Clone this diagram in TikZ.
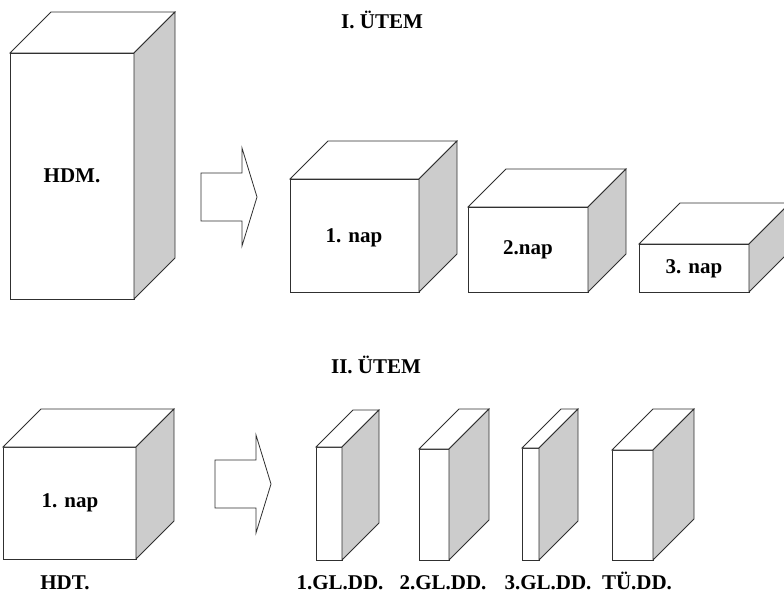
\documentclass[tikz,border=0pt]{standalone}
\usepackage{fontspec}
\setmainfont{Liberation Serif}
\usepackage{tikz}
\usetikzlibrary{positioning}
\definecolor{CSide}{HTML}{CCCCCC}
\definecolor{CLine}{HTML}{303030}

% box: front face lower left (#1,#2), width #3, height #4, depth #5
\newcommand{\cuboid}[5]{%
  \filldraw[fill=white, draw=CLine] (#1,#2) rectangle ++(#3,-#4);
  \filldraw[fill=white, draw=CLine] (#1,#2-#4) -- ++(#5,-#5) -- ++(#3,0) -- ++(-#5,#5) -- cycle;
  \filldraw[fill=CSide, draw=CLine] (#1+#3,#2) -- (#1+#3,#2-#4) -- ++(#5,-#5) -- ++(0,#4) -- cycle;
}
% block arrow: shaft left x, tip x, centre y
\newcommand{\blockarrow}[3]{%
  \draw[CLine, fill=white] (#1,#3-24) -- (#1+41,#3-24) -- (#1+41,#3-49) -- (#2,#3)
    -- (#1+41,#3+49) -- (#1+41,#3+24) -- (#1,#3+24) -- cycle;
}

\begin{document}
\begin{tikzpicture}[x=1pt, y=-1pt, line width=0.8pt,
    lbl/.style={font=\fontsize{21}{25}\selectfont\bfseries, text=black, text height=14pt}]
    \useasboundingbox (0,0) rectangle (784,593);

    % I. UTEM
    \node[lbl] (t1) at (382,22) {I. ÜTEM};

    \cuboid{10}{299}{124}{246}{41}
    \node[lbl] (hdm) at (72,176) {HDM.};

    \blockarrow{201}{257}{197}

    \cuboid{290}{292}{129}{113}{38}
    \node[lbl] (nap1) at (354,238) {1. nap};
    \cuboid{468}{292}{120}{85}{38}
    \node[lbl] (nap2) at (528,250) {2.nap};
    \cuboid{639}{292}{110}{48}{41}
    \node[lbl] (nap3) at (694,269) {3. nap};

    % II. UTEM
    \node[lbl] (t2) at (376,367) {II. ÜTEM};

    \cuboid{3}{559}{133}{112}{38}
    \node[lbl] (hdt1) at (70,503) {1. nap};
    \node[lbl] (hdt) at (65,583) {HDT.};

    \blockarrow{215}{271}{484}

    \cuboid{316}{560}{26}{113}{37}
    \cuboid{419}{560}{30}{111}{40}
    \cuboid{522}{560}{17}{112}{39}
    \cuboid{612}{560}{41}{110}{41}

    \node[lbl] (gl1) at (340,583) {1.GL.DD.};
    \node[lbl] (gl2) at (443,583) {2.GL.DD.};
    \node[lbl] (gl3) at (548,583) {3.GL.DD.};
    \node[lbl] (tu) at (637,583) {TÜ.DD.};
\end{tikzpicture}
\end{document}
